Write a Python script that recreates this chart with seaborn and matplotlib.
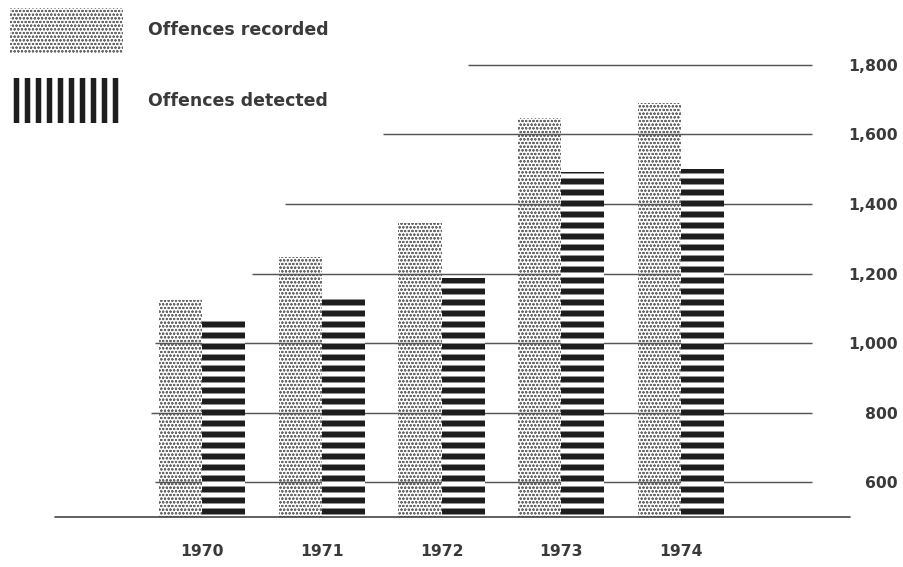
import pandas as pd
import matplotlib.pyplot as plt
import seaborn as sns
from matplotlib.patches import Patch

# plain white background, no seaborn grid
sns.set_style("white")
plt.rcParams['font.family'] = ['DejaVu Sans']

# Data
years = ["1970", "1971", "1972", "1973", "1974"]
recorded = [1124, 1247, 1345, 1647, 1690]
detected = [1072, 1129, 1187, 1491, 1500]
series = ["Offences recorded", "Offences detected"]
y_ticks = [600, 800, 1000, 1200, 1400, 1600, 1800]
# the rules are staggered: each one starts at a different place (category units)
grid_start = [-0.39, -0.43, -0.39, 0.42, 0.69, 1.51, 2.22]

df = pd.DataFrame({
    "year": years * 2,
    "offences": recorded + detected,
    "series": [series[0]] * len(years) + [series[1]] * len(years),
})

DPI = 66
fig = plt.figure(figsize=(903 / DPI, 567 / DPI), dpi=DPI)
ax = fig.add_axes([55 / 903, 50 / 567, 795 / 903, 487 / 567])

sns.barplot(data=df, x="year", y="offences", hue="series",
            palette=["white", "white"], saturation=1, width=0.72, gap=0,
            legend=False, ax=ax)

# hatch styles: dotted screen for recorded, thick black stripes for detected
styles = [
    dict(hatch="ooo", ec="#6a6a6a", hlw=0.9, z=2),
    dict(hatch="-", ec="#1e1e1e", hlw=6.5, z=4),
]
for cont, st in zip(ax.containers, styles):
    for bar in cont:
        bar.set_facecolor("white")
        bar.set_edgecolor(st["ec"])
        bar.set_linewidth(0)
        bar.set_hatch(st["hatch"])
        bar.set_zorder(st["z"])
        if hasattr(bar, "set_hatch_linewidth"):
            bar.set_hatch_linewidth(st["hlw"])

# staggered horizontal rules + baseline
ax.hlines(y_ticks, grid_start, 5.09, color="#555555", lw=1.6, zorder=3)
ax.axhline(500, color="#444444", lw=1.8, clip_on=False, zorder=5)

ax.set_xlim(-1.228, 5.411)
ax.set_ylim(500, 1900)

for s in ax.spines.values():
    s.set_visible(False)

ax.yaxis.tick_right()
ax.set_yticks(y_ticks)
ax.set_yticklabels([f"{v:,}" for v in y_ticks])
ax.tick_params(axis="y", length=0, pad=52, labelsize=17, labelcolor="#3a3a3a")
for lbl in ax.get_yticklabels():
    lbl.set_horizontalalignment("right")
    lbl.set_fontweight("bold")
ax.tick_params(axis="x", length=0, pad=30, labelsize=17, labelcolor="#3a3a3a")
for lbl in ax.get_xticklabels():
    lbl.set_fontweight("bold")
ax.set_xlabel("")
ax.set_ylabel("")

# legend (the detected key uses vertical stripes, as in the original)
handles = [
    Patch(facecolor="white", edgecolor="#6a6a6a", hatch="ooo", lw=0),
    Patch(facecolor="white", edgecolor="#1e1e1e", hatch="|", lw=0),
]
leg = fig.legend(handles, series, loc="upper left",
                 bbox_to_anchor=(10 / 903, 1 - 8 / 567),
                 frameon=False, prop=dict(size=19, weight="bold"),
                 handlelength=6.5, handleheight=3.61, labelspacing=1.44,
                 handletextpad=1.44, borderpad=0, borderaxespad=0)
for p, lw in zip(leg.get_patches(), [0.9, 6.0]):
    if hasattr(p, "set_hatch_linewidth"):
        p.set_hatch_linewidth(lw)
for t in leg.get_texts():
    t.set_color("#3a3a3a")

fig.savefig("out.png", dpi=DPI)
